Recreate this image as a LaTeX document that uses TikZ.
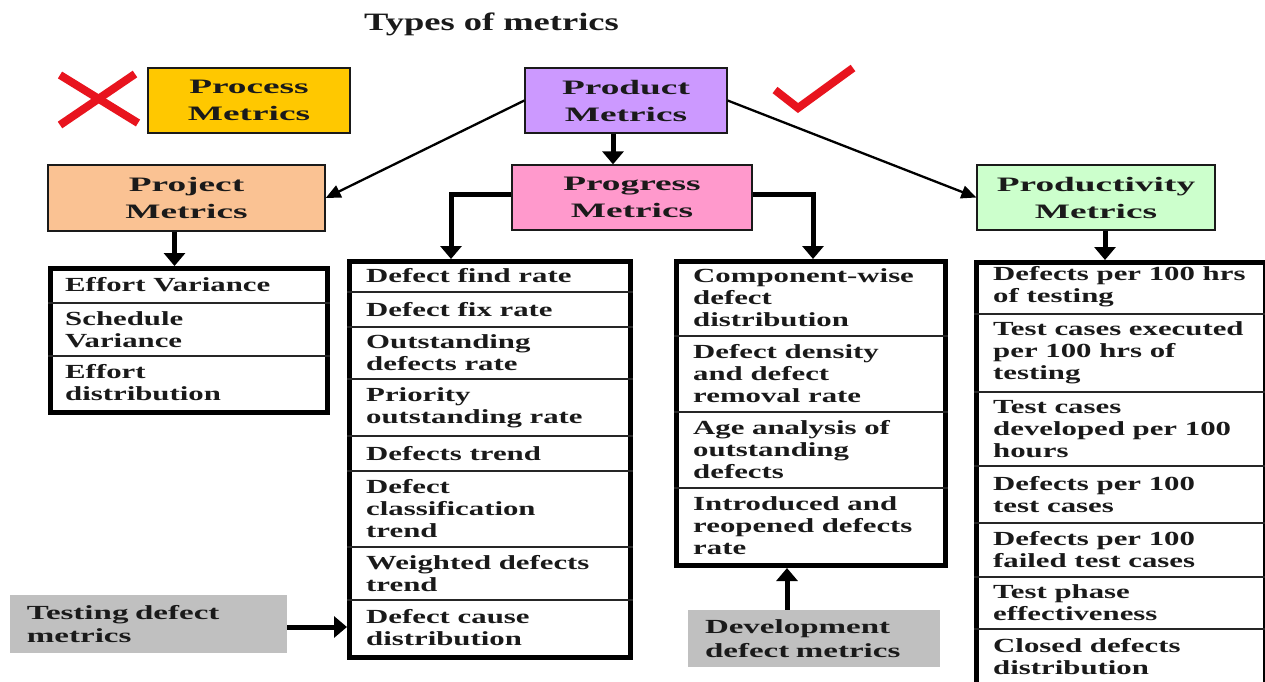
\documentclass[tikz,border=0pt]{standalone}
\usepackage{fontspec}
\usetikzlibrary{arrows.meta}
\newfontfamily\listfont{Liberation Serif}[FakeStretch=1.54]
\newfontfamily\hdrfont{Liberation Serif}[FakeStretch=1.82]
\newfontfamily\grayfont{Liberation Serif}[FakeStretch=1.65]
\newfontfamily\titlefont{Liberation Serif}[FakeStretch=1.46]
\definecolor{procfill}{HTML}{FFC800}
\definecolor{prodfill}{HTML}{CC99FF}
\definecolor{projfill}{HTML}{FAC293}
\definecolor{progfill}{HTML}{FF99CC}
\definecolor{prodvfill}{HTML}{CCFFCC}
\definecolor{grayfill}{HTML}{C0C0C0}
\definecolor{markred}{HTML}{E8141E}
\definecolor{ink}{HTML}{1A1A1A}
\tikzset{
  hdr/.style={draw=ink, line width=1.3pt, inner sep=0pt, align=center,
    font=\hdrfont\bfseries\fontsize{20.5}{27}\selectfont, text=ink},
  frame/.style={draw=black, line width=5pt, inner sep=0pt},
  divider/.style={draw=black!85, line width=1.8pt},
  rowtext/.style={anchor=west, inner sep=0pt, align=left,
    font=\listfont\bfseries\fontsize{20}{22}\selectfont, text=ink},
  graybox/.style={fill=grayfill, inner xsep=17pt, inner ysep=0pt, align=left,
    font=\grayfont\bfseries\fontsize{20}{23.5}\selectfont, text=ink},
  thickarrow/.style={line width=5pt, -{Triangle[width=21pt,length=13pt]}},
  thinarrow/.style={line width=2.3pt, -{Triangle[width=13pt,length=15pt]}},
  redmark/.style={draw=markred, line width=8pt}
}
% horizontal rule across a list frame at height #2
\newcommand\divline[2]{\draw[divider] (#1.west |- 0,#2) -- (#1.east |- 0,#2);}
\begin{document}
\begin{tikzpicture}[x=1pt, y=-1pt]
\useasboundingbox (0,0) rectangle (1265,681);
\fill[white] (0,0) rectangle (1265,681);
\clip (0,0) rectangle (1265,681);

% title
\node[anchor=base, inner sep=0pt, font=\titlefont\bfseries\fontsize{25}{30}\selectfont, text=ink]
  (title) at (491.5,30) {Types of metrics};

% category boxes
\node[hdr, fill=procfill, minimum width=202pt, minimum height=65pt] (process) at (249,100.5) {Process\\Metrics};
\node[hdr, fill=prodfill, minimum width=202pt, minimum height=65pt] (product) at (626,100.5) {Product\\Metrics};
\node[hdr, fill=projfill, minimum width=277pt, minimum height=66pt] (project) at (186.5,198) {Project\\Metrics};
\node[hdr, fill=progfill, minimum width=240pt, minimum height=65pt] (progress) at (632,197.5) {Progress\\Metrics};
\node[hdr, fill=prodvfill, minimum width=238pt, minimum height=65pt] (productivity) at (1096,197.5) {Productivity\\Metrics};

% cross and tick
\draw[redmark] (60,75) -- (138,123);
\draw[redmark] (135,74) -- (60,125);
\draw[redmark, line join=miter] (775,90) -- (798,108) -- (853,68);

% list frames
\node[frame, minimum width=277pt, minimum height=144pt, anchor=north west] (effortbox) at (48,266) {};
\node[frame, minimum width=281pt, minimum height=396pt, anchor=north west] (progbox) at (347,259) {};
\node[frame, minimum width=269pt, minimum height=304pt, anchor=north west] (devbox) at (674,259) {};
\node[frame, minimum width=289pt, minimum height=430pt, anchor=north west] (prodvbox) at (974,260) {};

% project metrics list
\divline{effortbox}{303}
\divline{effortbox}{356}
\node[rowtext] (e1) at (65,284.5) {Effort Variance};
\node[rowtext] (e2) at (65,329.5) {Schedule\\Variance};
\node[rowtext] (e3) at (65,383) {Effort\\distribution};

% progress metrics list (testing side)
\foreach \y in {292,327,379,436,471,547,600} {\divline{progbox}{\y}}
\node[rowtext] (p1) at (366,275.5) {Defect find rate};
\node[rowtext] (p2) at (366,309.5) {Defect fix rate};
\node[rowtext] (p3) at (366,353) {Outstanding\\defects rate};
\node[rowtext] (p4) at (366,407.5) {Priority\\outstanding rate};
\node[rowtext] (p5) at (366,453.5) {Defects trend};
\node[rowtext] (p6) at (366,509) {Defect\\classification\\trend};
\node[rowtext] (p7) at (366,573.5) {Weighted defects\\trend};
\node[rowtext] (p8) at (366,627.5) {Defect cause\\distribution};

% progress metrics list (development side)
\foreach \y in {336,412,488} {\divline{devbox}{\y}}
\node[rowtext] (d1) at (693,297.5) {Component-wise\\defect\\distribution};
\node[rowtext] (d2) at (693,374) {Defect density\\and defect\\removal rate};
\node[rowtext] (d3) at (693,450) {Age analysis of\\outstanding\\defects};
\node[rowtext] (d4) at (693,525.5) {Introduced and\\reopened defects\\rate};

% productivity metrics list
\foreach \y in {314,392,466,523,577,629} {\divline{prodvbox}{\y}}
\node[rowtext] (q1) at (993,287) {Defects per 100 hrs\\of testing};
\node[rowtext] (q2) at (993,353) {Test cases executed\\per 100 hrs of\\testing};
\node[rowtext] (q3) at (993,429) {Test cases\\developed per 100\\hours};
\node[rowtext] (q4) at (993,494.5) {Defects per 100\\test cases};
\node[rowtext] (q5) at (993,550) {Defects per 100\\failed test cases};
\node[rowtext] (q6) at (993,603) {Test phase\\effectiveness};
\node[rowtext] (q7) at (993,656.5) {Closed defects\\distribution};

% grey source boxes
\node[graybox, text width=243pt, minimum height=58pt] (testing) at (148.5,624) {Testing defect\\metrics};
\node[graybox, text width=218pt, minimum height=57pt] (development) at (814,638.5) {Development\\defect metrics};

% connectors
\draw[thinarrow] (product.west) -- (project.east);
\draw[thinarrow] (product.east) -- (productivity.west);
\draw[thickarrow] ([xshift=-13pt]product.south) -- ([xshift=-13pt]product.south |- progress.north);
\draw[thickarrow] ([xshift=-12pt]project.south) -- ([xshift=-12pt]project.south |- effortbox.north);
\draw[thickarrow] ([xshift=9pt]productivity.south) -- ([xshift=9pt]productivity.south |- prodvbox.north);
\draw[thickarrow] ([yshift=3pt]progress.west) -| ([xshift=104pt]progbox.north west);
\draw[thickarrow] ([yshift=3pt]progress.east) -| ([xshift=139pt]devbox.north west);
\draw[thickarrow] ([yshift=-3pt]testing.east) -- ([yshift=-3pt]testing.east -| progbox.west);
\draw[thickarrow] ([xshift=-27pt]development.north) -- ([xshift=-27pt]development.north |- devbox.south);
\end{tikzpicture}
\end{document}
